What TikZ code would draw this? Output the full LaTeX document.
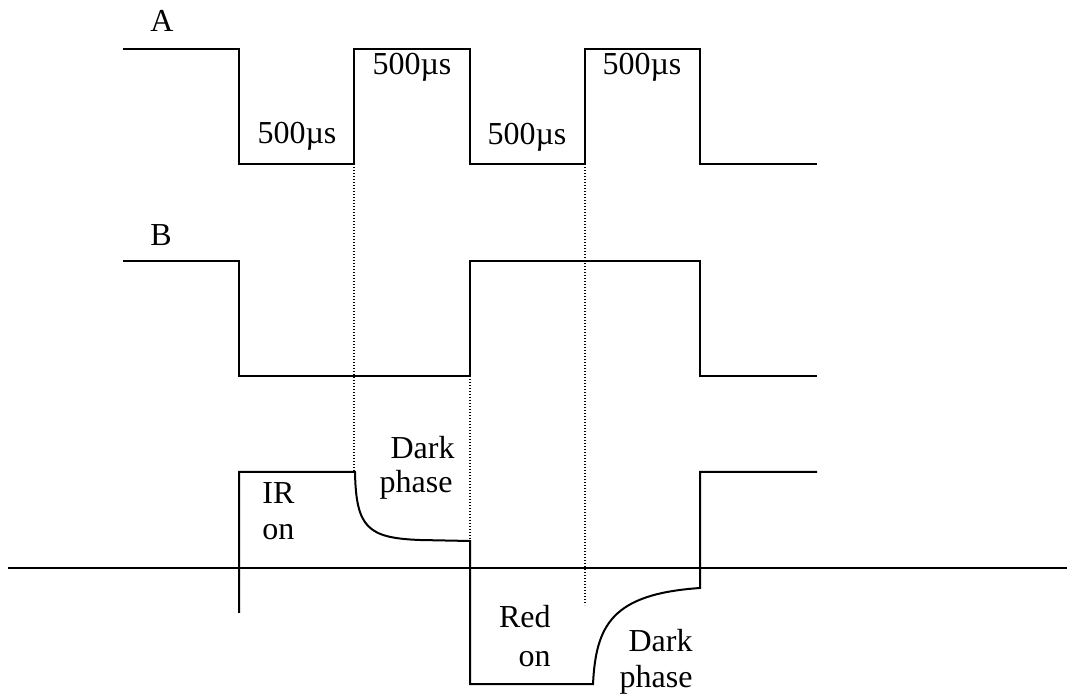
\documentclass[tikz,border=0pt]{standalone}
\usepackage{fontspec}
\setmainfont{Liberation Serif}
\begin{document}
\begin{tikzpicture}[x=0.5pt,y=-0.5pt,
  wave/.style={line width=1pt, line join=miter},
  axisline/.style={line width=1.3pt},
  guide/.style={line width=0.6pt, dash pattern=on 0.6pt off 0.9pt},
  lbl/.style={font=\fontsize{16}{19}\selectfont, inner sep=0pt, anchor=base},
  lblr/.style={lbl, anchor=base east},
  lbll/.style={lbl, anchor=base west}]
\useasboundingbox (0,0) rectangle (1078,700);
% signal A
\draw[wave] (123,49) -- (239,49) -- (239,164) -- (354,164) -- (354,49) -- (470,49)
  -- (470,164) -- (585,164) -- (585,49) -- (700,49) -- (700,164) -- (817,164);
% signal B
\draw[wave] (123,261) -- (239,261) -- (239,376) -- (470,376) -- (470,261)
  -- (700,261) -- (700,376) -- (817,376);
% axis
\draw[axisline] (8,568) -- (1067,568);
% detector signal
\draw[wave] (239,613) -- (239,472) -- (355,472)
  .. controls (356,528) and (368,538) .. (420,540) -- (470,541)
  -- (470,684) -- (593,684)
  .. controls (596,625) and (612,594) .. (700,588)
  -- (700,472) -- (817,472);
% dotted guides
\draw[guide] (354,164) -- (354,472);
\draw[guide] (470,376) -- (470,541);
\draw[guide] (585,164) -- (585,605);
% labels
\node[lbl] (la) at (162,32) {A};
\node[lbl] (lb) at (161,246) {B};
\node[lbl] (t1) at (297,144) {500µs};
\node[lbl] (t2) at (412,75) {500µs};
\node[lbl] (t3) at (527,145) {500µs};
\node[lbl] (t4) at (642,75) {500µs};
\node[lbll] (ir1) at (262,504) {IR};
\node[lbll] (ir2) at (262,540) {on};
\node[lblr] (d1) at (455,459) {Dark};
\node[lblr] (d2) at (453,493) {phase};
\node[lblr] (r1) at (551,628) {Red};
\node[lblr] (r2) at (551,667) {on};
\node[lblr] (d3) at (693,652) {Dark};
\node[lblr] (d4) at (693,688) {phase};
\end{tikzpicture}
\end{document}
